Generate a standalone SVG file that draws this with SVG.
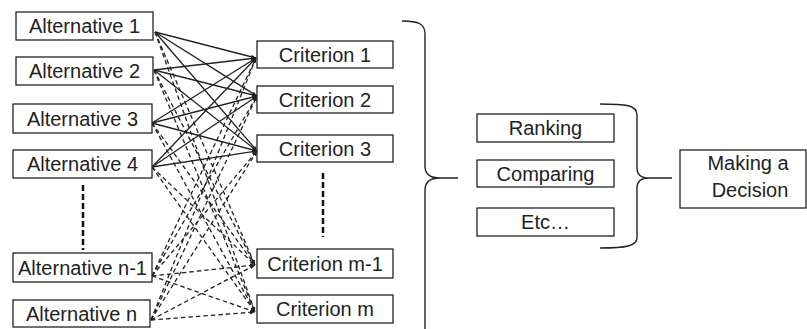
<svg xmlns="http://www.w3.org/2000/svg" width="807" height="329" viewBox="0 0 807 329">
<style>
.box{fill:#fff;stroke:#222;stroke-width:1.3}
.t{font-family:"Liberation Sans",Arial,sans-serif;font-size:20px;fill:#222;text-anchor:middle}
.s{stroke:#222;stroke-width:1.3;fill:none}
.d{stroke:#222;stroke-width:1.3;fill:none;stroke-dasharray:4.5 3}
.v{stroke:#111;stroke-width:2.5;fill:none;stroke-dasharray:6 3}
.b{stroke:#222;stroke-width:1.4;fill:none}
</style>
<defs>
<marker id="ah" viewBox="0 0 10 10" refX="10" refY="5" markerWidth="5" markerHeight="5" orient="auto" markerUnits="userSpaceOnUse">
<path d="M0,1 L10,5 L0,9 z" fill="#222"/>
</marker>
</defs>
<rect width="807" height="329" fill="#fff"/>
<g id="connectors">
<g class="s" marker-end="url(#ah)">
<line x1="155" y1="32" x2="256" y2="58"/>
<line x1="155" y1="32" x2="257" y2="96"/>
<line x1="155" y1="32" x2="257" y2="151"/>
<line x1="154" y1="70" x2="256" y2="58"/>
<line x1="154" y1="70" x2="257" y2="96"/>
<line x1="154" y1="70" x2="257" y2="151"/>
<line x1="152" y1="123" x2="256" y2="58"/>
<line x1="152" y1="123" x2="257" y2="96"/>
<line x1="152" y1="123" x2="257" y2="151"/>
<line x1="152" y1="167" x2="256" y2="58"/>
<line x1="152" y1="167" x2="257" y2="96"/>
<line x1="152" y1="167" x2="257" y2="151"/>
</g>
<g class="d" marker-end="url(#ah)">
<line x1="155" y1="32" x2="255" y2="265"/>
<line x1="155" y1="32" x2="255" y2="312"/>
<line x1="154" y1="70" x2="255" y2="265"/>
<line x1="154" y1="70" x2="255" y2="312"/>
<line x1="152" y1="123" x2="255" y2="265"/>
<line x1="152" y1="123" x2="255" y2="312"/>
<line x1="152" y1="167" x2="255" y2="265"/>
<line x1="152" y1="167" x2="255" y2="312"/>
<line x1="152" y1="276" x2="256" y2="58"/>
<line x1="152" y1="276" x2="257" y2="96"/>
<line x1="152" y1="276" x2="257" y2="151"/>
<line x1="152" y1="276" x2="255" y2="265"/>
<line x1="152" y1="276" x2="255" y2="312"/>
<line x1="151" y1="320" x2="256" y2="58"/>
<line x1="151" y1="320" x2="257" y2="96"/>
<line x1="151" y1="320" x2="257" y2="151"/>
<line x1="151" y1="320" x2="255" y2="265"/>
<line x1="151" y1="320" x2="255" y2="312"/>
</g>
<line class="v" x1="83" y1="185" x2="83" y2="250"/>
<line class="v" x1="323" y1="173" x2="323" y2="237"/>
<path class="b" d="M402,21 C419,21 425,24 425,34 L425,166 C425,174 430,178 440,178 L458,178 M440,178 C430,178 425,182 425,190 L425,335"/>
<path class="b" d="M600,104 C626,104 637,105 637,115 L637,168 C637,175 641,178 649,178 L672,178 M649,178 C641,178 637,181 637,188 L637,238 C637,246 626,248 600,248"/>
</g>
<g id="alt1"><rect class="box" x="16" y="12" width="137" height="28"/><text class="t" x="84.5" y="33">Alternative 1</text></g>
<g id="alt2"><rect class="box" x="16" y="57" width="137" height="28"/><text class="t" x="84.5" y="78">Alternative 2</text></g>
<g id="alt3"><rect class="box" x="13" y="104" width="139" height="29"/><text class="t" x="82.5" y="125.5">Alternative 3</text></g>
<g id="alt4"><rect class="box" x="13" y="150" width="139" height="28"/><text class="t" x="82.5" y="171">Alternative 4</text></g>
<g id="altn1"><rect class="box" x="13" y="253" width="139" height="29"/><text class="t" x="82.5" y="274.5">Alternative n-1</text></g>
<g id="altn"><rect class="box" x="13" y="300" width="137" height="27"/><text class="t" x="81.5" y="320.5">Alternative n</text></g>
<g id="crit1"><rect class="box" x="257" y="41" width="136" height="27"/><text class="t" x="325" y="61.5">Criterion 1</text></g>
<g id="crit2"><rect class="box" x="257" y="86" width="136" height="27"/><text class="t" x="325" y="106.5">Criterion 2</text></g>
<g id="crit3"><rect class="box" x="257" y="135" width="136" height="27"/><text class="t" x="325" y="155.5">Criterion 3</text></g>
<g id="critm1"><rect class="box" x="257" y="249" width="136" height="29"/><text class="t" x="325" y="270.5">Criterion m-1</text></g>
<g id="critm"><rect class="box" x="257" y="295" width="136" height="28"/><text class="t" x="325" y="316">Criterion m</text></g>
<g id="ranking"><rect class="box" x="477" y="114" width="137" height="28"/><text class="t" x="545.5" y="135">Ranking</text></g>
<g id="comparing"><rect class="box" x="477" y="160" width="137" height="27"/><text class="t" x="545.5" y="180.5">Comparing</text></g>
<g id="etc"><rect class="box" x="477" y="208" width="137" height="28"/><text class="t" x="545.5" y="229">Etc…</text></g>
<g id="decision"><rect class="box" x="680" y="150" width="126" height="58"/><text class="t" x="748" y="170">Making a</text><text class="t" x="750" y="197">Decision</text></g>
</svg>
